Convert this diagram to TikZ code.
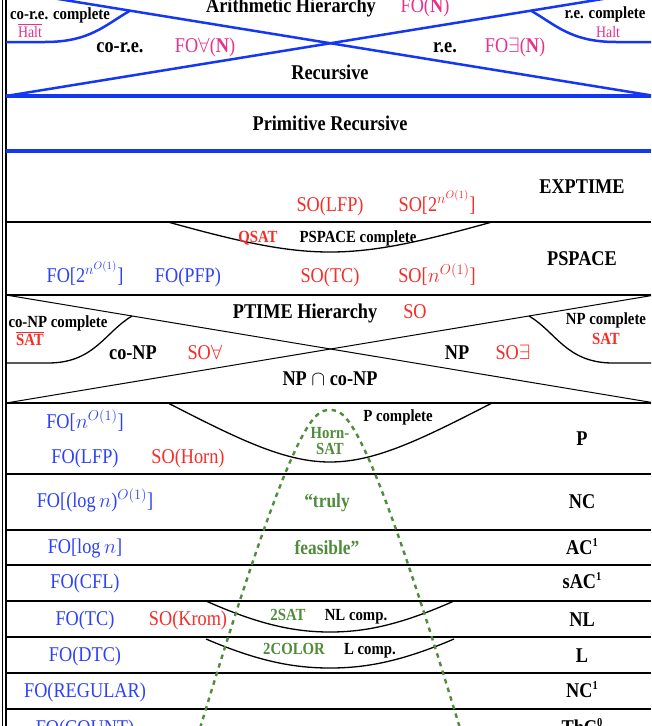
\documentclass[tikz,border=0pt]{standalone}
\usepackage{fontspec}
\setmainfont{Liberation Serif}[FakeStretch=0.87]
\definecolor{lineblue}{RGB}{20,55,245}
\definecolor{foblue}{RGB}{45,65,250}
\definecolor{sored}{RGB}{245,45,40}
\definecolor{natpink}{RGB}{230,50,140}
\definecolor{probgreen}{RGB}{80,140,60}
% small raised index for circuit classes
\newcommand\classidx[1]{\raisebox{0.8ex}{\fontsize{12}{12}\selectfont #1}}
\tikzset{
  big/.style={font=\fontsize{21}{23}\selectfont\bfseries, inner sep=0pt, anchor=base},
  small/.style={font=\fontsize{17}{18}\selectfont\bfseries, inner sep=0pt, anchor=base},
  logic/.style={font=\fontsize{21}{23}\selectfont, inner sep=0pt, anchor=base},
  fo/.style={logic, text=foblue},
  so/.style={logic, text=sored},
  nat/.style={logic, text=natpink},
  halt/.style={font=\fontsize{16}{18}\selectfont, inner sep=0pt, anchor=base, text=natpink},
  grn/.style={small, text=probgreen},
  hline/.style={line width=1.8pt},
  bline/.style={line width=3.5pt, lineblue},
  aline/.style={line width=2.5pt, lineblue},
  xline/.style={line width=1pt},
  curve/.style={line width=1.3pt},
  feasible/.style={probgreen, line width=2.4pt, dash pattern=on 4.5pt off 4.5pt},
}
\begin{document}
\begin{tikzpicture}[x=1pt,y=-1pt]
\clip (0,0) rectangle (651,726);
\fill[white] (0,0) rectangle (651,726);

% left double border
\draw[line width=1.2pt] (2.5,-5) -- (2.5,730);
\draw[line width=1.2pt] (6,-5) -- (6,730);

% arithmetic hierarchy cross
\draw[aline] (6,-9.5) -- (655,96);
\draw[aline] (6,96) -- (655,-9.5);
\draw[aline] (6,42) -- (45,42) .. controls (90,42) and (105,25) .. (130,10.7);
\draw[aline] (651,42) -- (616,42) .. controls (571,42) and (556,25) .. (531,10.7);

% blue separators
\draw[bline] (6,96) -- (651,96);
\draw[bline] (6,151) -- (651,151);

% black separators
\foreach \yy in {222,295,403,474,530,565,601,637,673,709}
  \draw[hline] (6,\yy) -- (651,\yy);

% polynomial hierarchy cross
\draw[xline] (6,295) -- (655,403);
\draw[xline] (6,403) -- (655,295);
\draw[curve] (6,363) -- (50,363) .. controls (95,362) and (105,332) .. (132,316);
\draw[curve] (651,363) -- (611,363) .. controls (566,362) and (556,332) .. (529,316);

% completeness pockets
\draw[curve] (168,222) .. controls (240,242) and (285,252) .. (330,252)
             .. controls (375,252) and (420,242) .. (492,222);
\draw[curve] (168,403) .. controls (240,440) and (285,462) .. (330,462)
             .. controls (375,462) and (420,440) .. (492,403);
\draw[curve] (206,601) .. controls (260,625) and (295,632) .. (330,632)
             .. controls (365,632) and (400,625) .. (454,601);
\draw[curve] (206,639) .. controls (260,662) and (295,668) .. (330,668)
             .. controls (365,668) and (400,662) .. (454,639);

% truly feasible region
\draw[feasible] (195,745) .. controls (294,415) and (314,410) .. (330,410)
                .. controls (346,410) and (366,415) .. (465,745);

% arithmetic hierarchy labels
\node[big] (ah) at (291,12) {Arithmetic Hierarchy};
\node[nat] (fon) at (425,12) {FO(\textbf{N})};
\node[small] (corec) at (60,19) {co-r.e. complete};
\node[halt] (chalt) at (30,37) {$\overline{\mbox{Halt}}$};
\node[big] (core) at (120,52) {co-r.e.};
\node[nat] (foa) at (205,52) {FO$\forall$(\textbf{N})};
\node[big] (re) at (445,52) {r.e.};
\node[nat] (foe) at (515,52) {FO$\exists$(\textbf{N})};
\node[small] (rec) at (605,18) {r.e. complete};
\node[halt] (halt) at (608,37) {Halt};
\node[big] (recu) at (330,79) {Recursive};
\node[big] (prim) at (330,130) {Primitive Recursive};

% exponential time and space
\node[big] (exptime) at (582,193) {EXPTIME};
\node[so] (solfp) at (330,211) {SO(LFP)};
\node[so] (soexp) at (437,211) {SO[2$^{n^{O(1)}}$]};
\node[small, text=sored] (qsat) at (258,242) {QSAT};
\node[small] (pscomp) at (358,242) {PSPACE complete};
\node[big] (pspace) at (582,265) {PSPACE};
\node[fo] (foexp) at (85,282) {FO[2$^{n^{O(1)}}$]};
\node[fo] (fopfp) at (188,282) {FO(PFP)};
\node[so] (sotc) at (330,282) {SO(TC)};
\node[so] (sopoly) at (437,282) {SO[$n^{O(1)}$]};

% polynomial hierarchy
\node[big] (ph) at (305,318) {PTIME Hierarchy};
\node[so] (so) at (415,318) {SO};
\node[small] (conpc) at (58,327) {co-NP complete};
\node[small, text=sored] (csat) at (30,345) {$\overline{\mbox{SAT}}$};
\node[small] (npc) at (606,324) {NP complete};
\node[small, text=sored] (sat) at (606,344) {SAT};
\node[big] (conp) at (133,359) {co-NP};
\node[so] (soa) at (205,359) {SO$\forall$};
\node[big] (np) at (457,359) {NP};
\node[so] (soe) at (513,359) {SO$\exists$};
\node[big] (npconp) at (330,385) {NP $\cap$ co-NP};

% polynomial time
\node[fo] (fopoly) at (85,428) {FO[$n^{O(1)}$]};
\node[small] (pcomp) at (398,421) {P complete};
\node[grn] (horn) at (330,438) {Horn-};
\node[grn] (hsat) at (330,454) {SAT};
\node[big] (p) at (582,445) {P};
\node[fo] (folfp) at (85,463) {FO(LFP)};
\node[so] (sohorn) at (188,463) {SO(Horn)};

% parallel classes
\node[fo] (fopolylog) at (95,507) {FO[(log\,$n$)$^{O(1)}$]};
\node[grn, font=\fontsize{20}{22}\selectfont\bfseries] (truly) at (327,507) {“truly};
\node[big] (nc) at (582,508) {NC};
\node[fo] (folog) at (85,553) {FO[log\,$n$]};
\node[grn, font=\fontsize{20}{22}\selectfont\bfseries] (feas) at (327,554) {feasible”};
\node[big] (ac1) at (582,554) {AC\classidx{1}};
\node[fo] (focfl) at (85,588) {FO(CFL)};
\node[big] (sac1) at (582,588) {sAC\classidx{1}};

% logspace and below
\node[fo] (fotc) at (85,625) {FO(TC)};
\node[so] (sokrom) at (188,625) {SO(Krom)};
\node[grn] (twosat) at (288,620) {2SAT};
\node[small] (nlcomp) at (356,620) {NL comp.};
\node[big] (nl) at (582,626) {NL};
\node[fo] (fodtc) at (85,661) {FO(DTC)};
\node[grn] (twocol) at (294,654) {2COLOR};
\node[small] (lcomp) at (370,654) {L comp.};
\node[big] (l) at (582,662) {L};
\node[fo] (foreg) at (85,697) {FO(REGULAR)};
\node[big] (nc1) at (582,697) {NC\classidx{1}};
\node[fo] (focount) at (85,734) {FO(COUNT)};
\node[big] (thc0) at (582,734) {ThC\classidx{0}};
\end{tikzpicture}
\end{document}
